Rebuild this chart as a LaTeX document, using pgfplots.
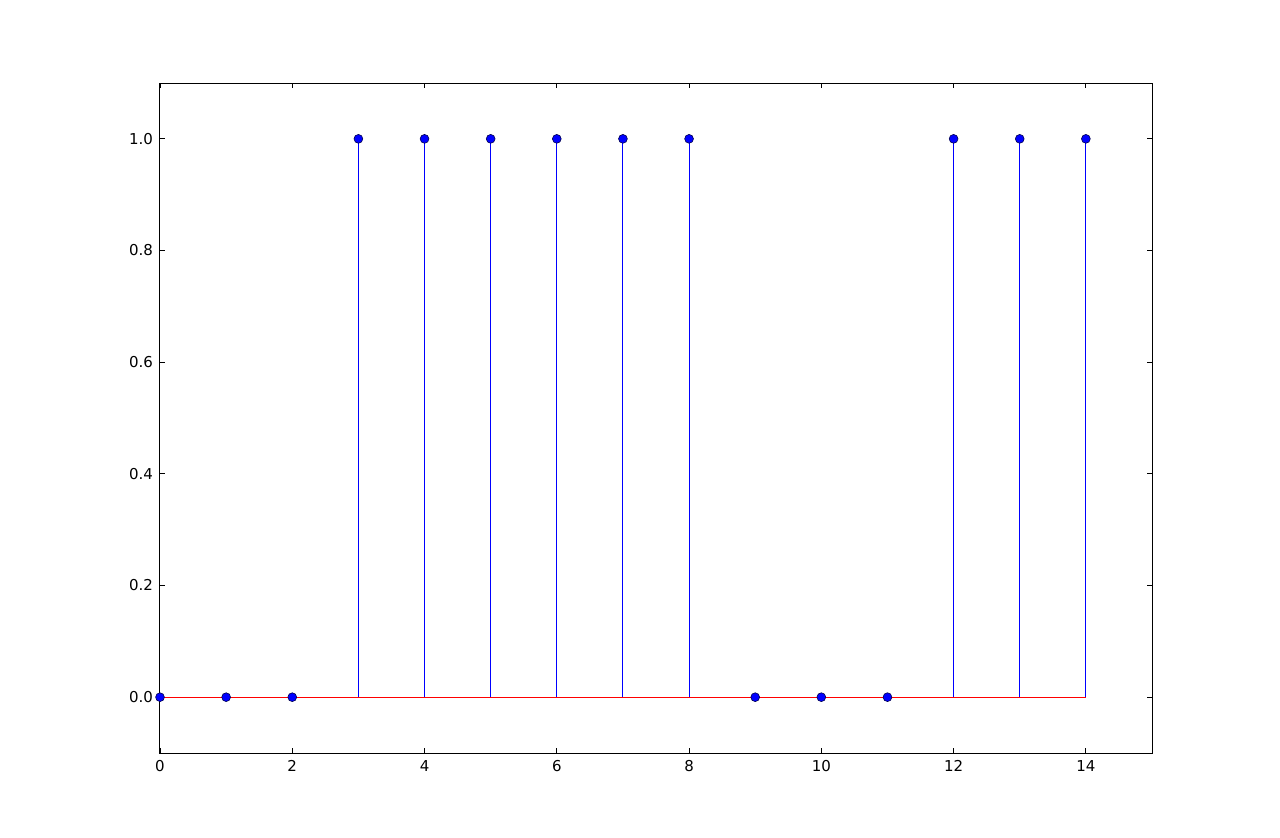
\documentclass[border=0pt]{standalone}
\usepackage{fontspec}
\setmainfont{DejaVu Sans}
\usepackage{pgfplots}
\pgfplotsset{compat=1.18}
\begin{document}
\begin{tikzpicture}
\path[use as bounding box] (-80pt,-42pt) rectangle (560pt,376.5pt);
\begin{axis}[
  at={(0,0)}, anchor=south west,
  scale only axis,
  width=496pt, height=335pt,
  xmin=0, xmax=15, ymin=-0.1, ymax=1.1,
  xtick={0,2,...,14},
  ytick={0,0.2,0.4,0.6,0.8,1.0},
  yticklabel style={/pgf/number format/.cd,fixed,fixed zerofill,precision=1},
  /pgf/number format/assume math mode=true,
  tick align=inside,
  major tick length=2.5pt,
  tick style={black, line width=0.4pt},
  axis line style={line width=0.5pt},
  ticklabel style={font=\fontsize{7.5}{9}\selectfont},
  xtick pos=both, ytick pos=both,
  clip=false,
]
% stems
\addplot[ycomb, blue, line width=0.5pt, no marks] coordinates {
(0,0) (1,0) (2,0) (3,1) (4,1) (5,1) (6,1) (7,1) (8,1)
(9,0) (10,0) (11,0) (12,1) (13,1) (14,1)};
% baseline
\addplot[red, line width=0.5pt, no marks] coordinates {(0,0) (14,0)};
% markers
\addplot[only marks, mark=*, mark size=2.2pt,
  mark options={fill=blue, draw=black!70!blue, line width=0.3pt}] coordinates {
(0,0) (1,0) (2,0) (3,1) (4,1) (5,1) (6,1) (7,1) (8,1)
(9,0) (10,0) (11,0) (12,1) (13,1) (14,1)};
\end{axis}
\end{tikzpicture}
\end{document}
